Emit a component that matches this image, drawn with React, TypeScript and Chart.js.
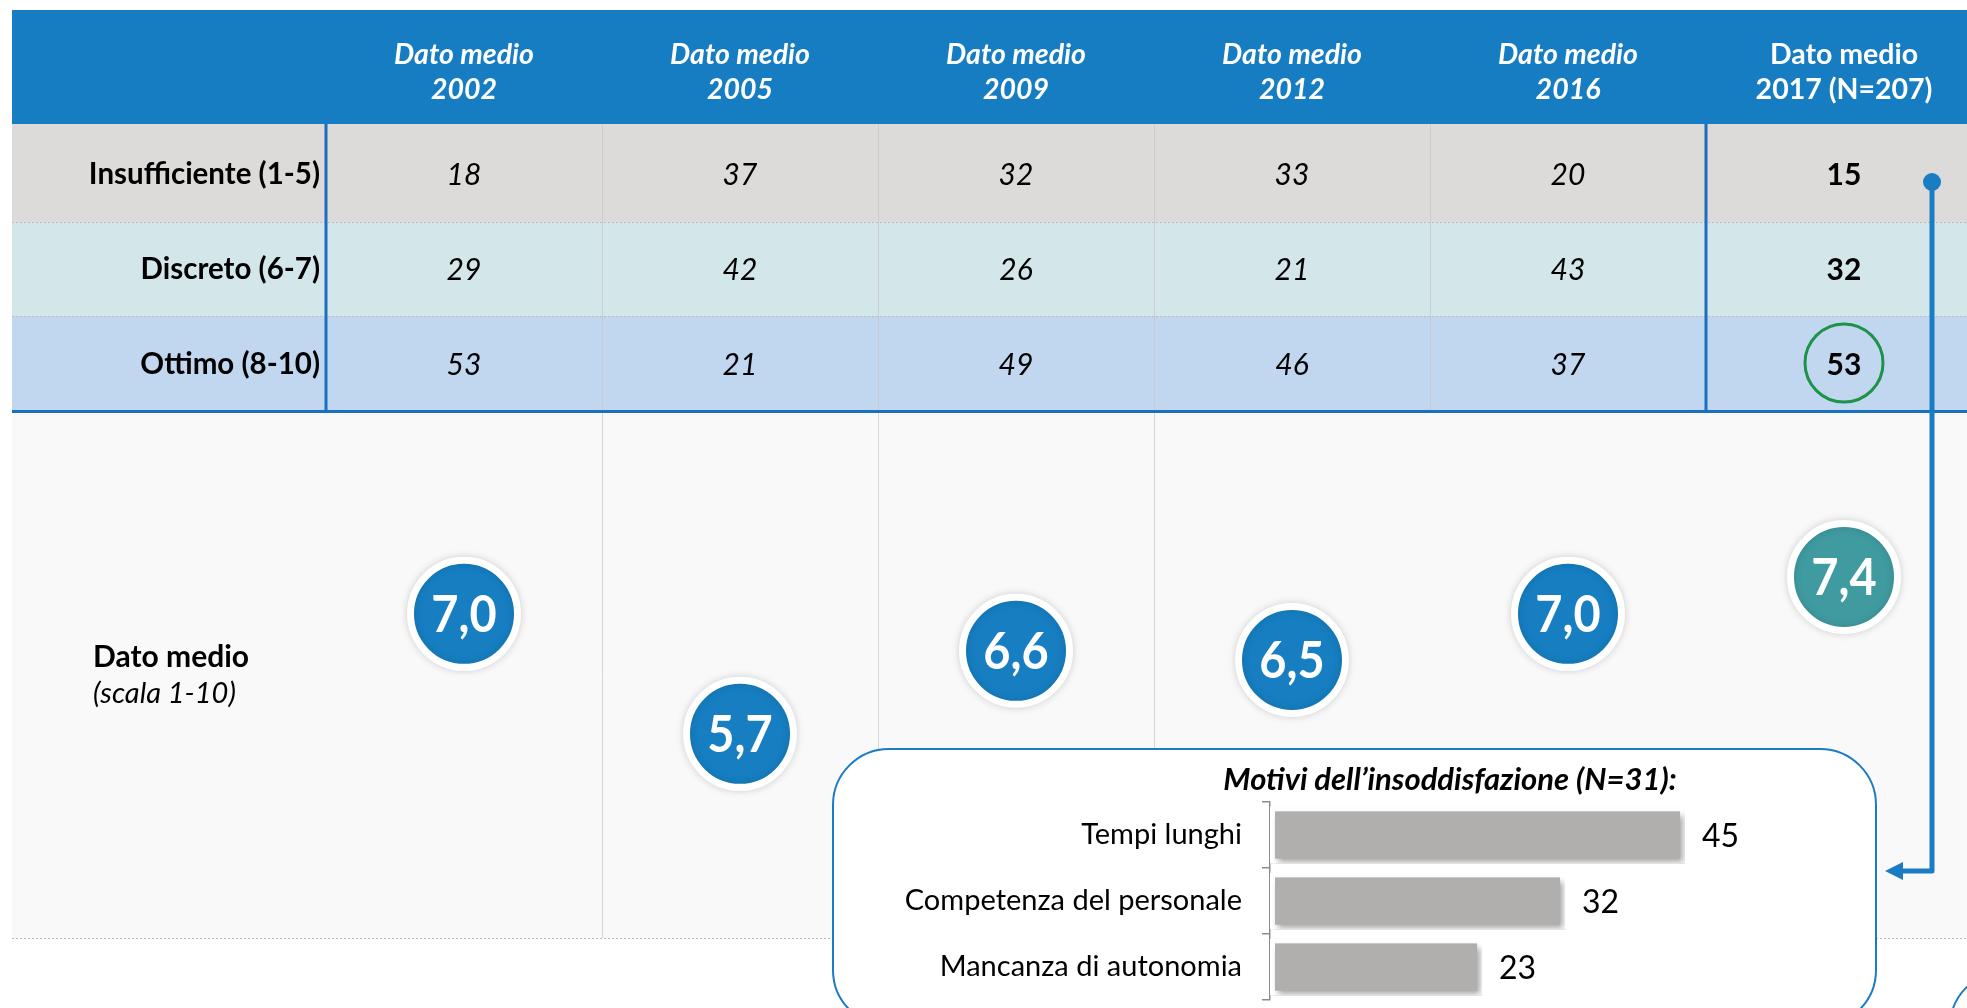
import React, { useEffect, useRef } from 'react';
import { Chart, registerables } from 'chart.js';

Chart.register(...registerables);

// ---------- DATA ----------
const years = ['2002', '2005', '2009', '2012', '2016', '2017 (N=207)'];
const rowLabels = ['Insufficiente (1-5)', 'Discreto (6-7)', 'Ottimo (8-10)'];
const insufficiente = [18, 37, 32, 33, 20, 15];
const discreto = [29, 42, 26, 21, 43, 32];
const ottimo = [53, 21, 49, 46, 37, 53];
const datoMedio = [7.0, 5.7, 6.6, 6.5, 7.0, 7.4];
const bubbleColors = ['#167EC1', '#167EC1', '#167EC1', '#167EC1', '#167EC1', '#3F9BA0'];

const reasonTitle = 'Motivi dell\u2019insoddisfazione (N=31):';
const reasonLabels = ['Tempi lunghi', 'Competenza del personale', 'Mancanza di autonomia'];
const reasonValues = [45, 32, 23];

// ---------- STYLE ----------
const FONT = 'Lato, "Open Sans", sans-serif';
const BLUE = '#177DC2';
const LINE_BLUE = '#1A6FBE';
const W = 1990;
const H = 1008;
const BAR_W = 1044;
const BAR_H = 259;

function txt(
  ctx: CanvasRenderingContext2D,
  s: string,
  x: number,
  y: number,
  font: string,
  color: string,
  align: CanvasTextAlign = 'center',
  baseline: CanvasTextBaseline = 'middle',
  sx = 1
) {
  ctx.save();
  ctx.font = font;
  ctx.fillStyle = color;
  ctx.textAlign = align;
  ctx.textBaseline = baseline;
  ctx.translate(x, y);
  ctx.scale(sx, 1);
  ctx.fillText(s, 0, 0);
  ctx.restore();
}

function roundRect(ctx: CanvasRenderingContext2D, x: number, y: number, w: number, h: number, r: number) {
  ctx.beginPath();
  ctx.moveTo(x + r, y);
  ctx.lineTo(x + w - r, y);
  ctx.arcTo(x + w, y, x + w, y + r, r);
  ctx.lineTo(x + w, y + h - r);
  ctx.arcTo(x + w, y + h, x + w - r, y + h, r);
  ctx.lineTo(x + r, y + h);
  ctx.arcTo(x, y + h, x, y + h - r, r);
  ctx.lineTo(x, y + r);
  ctx.arcTo(x, y, x + r, y, r);
  ctx.closePath();
}

const backdropPlugin = {
  id: 'backdrop',
  beforeDatasetsDraw(chart: any) {
    const ctx: CanvasRenderingContext2D = chart.ctx;
    const xs = chart.scales.x;
    const px = (v: number) => xs.getPixelForValue(v);
    const left = 12;
    const headerTop = 10;
    const headerBottom = 124;
    const rowBounds = [124, 222, 316, 410];
    const rowColors = ['#DCDBDA', '#D3E6EA', '#C1D7F0'];
    const lowerTop = 413;
    const lowerBottom = 938;

    ctx.save();
    // header band
    ctx.fillStyle = BLUE;
    ctx.fillRect(left, headerTop, W - left, headerBottom - headerTop);
    // table rows
    rowColors.forEach((c, i) => {
      ctx.fillStyle = c;
      ctx.fillRect(left, rowBounds[i], W - left, rowBounds[i + 1] - rowBounds[i]);
    });
    // lower section
    ctx.fillStyle = '#F9F9F9';
    ctx.fillRect(left, lowerTop, W - left, lowerBottom - lowerTop);

    // dotted row separators
    ctx.strokeStyle = '#BDBDBD';
    ctx.lineWidth = 1;
    ctx.setLineDash([2, 2]);
    [rowBounds[1], rowBounds[2]].forEach((y) => {
      ctx.beginPath();
      ctx.moveTo(left, y + 0.5);
      ctx.lineTo(W, y + 0.5);
      ctx.stroke();
    });
    ctx.beginPath();
    ctx.moveTo(left, lowerBottom + 0.5);
    ctx.lineTo(W, lowerBottom + 0.5);
    ctx.stroke();
    ctx.setLineDash([]);

    // table light vertical separators
    ctx.strokeStyle = 'rgba(200,200,200,0.8)';
    ctx.lineWidth = 1;
    for (let i = 0; i < years.length - 2; i++) {
      const x = Math.round(px(i + 0.5)) + 0.5;
      ctx.beginPath();
      ctx.moveTo(x, rowBounds[0]);
      ctx.lineTo(x, rowBounds[3]);
      ctx.stroke();
    }
    // lower section vertical separators
    ctx.strokeStyle = '#D6D6D6';
    [0, 1, 2].forEach((i) => {
      const x = Math.round(px(i + 0.5)) + 0.5;
      ctx.beginPath();
      ctx.moveTo(x, lowerTop);
      ctx.lineTo(x, i === 0 ? lowerBottom : 749);
      ctx.stroke();
    });

    // blue vertical lines and bottom border
    ctx.strokeStyle = LINE_BLUE;
    ctx.lineWidth = 3;
    [-0.5, years.length - 1.5].forEach((v) => {
      const x = px(v);
      ctx.beginPath();
      ctx.moveTo(x, headerBottom);
      ctx.lineTo(x, rowBounds[3]);
      ctx.stroke();
    });
    ctx.beginPath();
    ctx.moveTo(left, 411.5);
    ctx.lineTo(W, 411.5);
    ctx.stroke();

    // header text
    years.forEach((y, i) => {
      const last = i === years.length - 1;
      const f = last ? `bold 28.5px ${FONT}` : `italic bold 28.5px ${FONT}`;
      txt(ctx, 'Dato medio', px(i), 64, f, '#FFFFFF', 'center', 'alphabetic');
      txt(ctx, y, px(i), 99, f, '#FFFFFF', 'center', 'alphabetic');
    });

    // row labels and values
    const rowMid = [174, 269, 364];
    const rows = [insufficiente, discreto, ottimo];
    rowLabels.forEach((l, r) => {
      txt(ctx, l, 320, rowMid[r], `bold 29.5px ${FONT}`, '#000000', 'right');
      rows[r].forEach((v, i) => {
        const last = i === years.length - 1;
        txt(ctx, String(v), px(i), rowMid[r] + 1, last ? `bold 30px ${FONT}` : `italic 30px ${FONT}`, '#000000');
      });
    });

    // lower label
    txt(ctx, 'Dato medio', 93, 657, `bold 30px ${FONT}`, '#000000', 'left');
    txt(ctx, '(scala 1-10)', 93, 694, `italic 29px ${FONT}`, '#000000', 'left');

    // green circle around the 2017 "Ottimo" value
    ctx.strokeStyle = '#1E9247';
    ctx.lineWidth = 3;
    ctx.beginPath();
    ctx.arc(px(years.length - 1), 363, 39, 0, Math.PI * 2);
    ctx.stroke();

    // inset box
    ctx.fillStyle = '#FFFFFF';
    ctx.strokeStyle = '#1A7DC4';
    ctx.lineWidth = 2;
    roundRect(ctx, 833, 749, 1876 - 833, 1026 - 749, 56);
    ctx.fill();
    ctx.stroke();
    // partial box at bottom right
    roundRect(ctx, 1950, 971, 300, 200, 56);
    ctx.fill();
    ctx.stroke();

    // connector arrow
    ctx.strokeStyle = '#1A7DC4';
    ctx.fillStyle = '#1A7DC4';
    ctx.lineWidth = 5;
    ctx.lineJoin = 'round';
    ctx.beginPath();
    ctx.moveTo(1932, 182);
    ctx.lineTo(1932, 871);
    ctx.lineTo(1900, 871);
    ctx.stroke();
    ctx.beginPath();
    ctx.moveTo(1885, 871);
    ctx.lineTo(1903, 862);
    ctx.lineTo(1903, 880);
    ctx.closePath();
    ctx.fill();
    ctx.beginPath();
    ctx.arc(1932, 182, 9, 0, Math.PI * 2);
    ctx.fill();
    ctx.restore();
  },
  beforeDatasetDraw(chart: any) {
    const ctx = chart.ctx;
    ctx.save();
    ctx.shadowColor = 'rgba(0,0,0,0.14)';
    ctx.shadowBlur = 8;
  },
  afterDatasetDraw(chart: any) {
    chart.ctx.restore();
  },
  afterDatasetsDraw(chart: any) {
    const ctx = chart.ctx;
    const meta = chart.getDatasetMeta(0);
    meta.data.forEach((pt: any, i: number) => {
      const s = datoMedio[i].toFixed(1).replace('.', ',');
      txt(ctx, s, pt.x, pt.y + 18, `bold 51px ${FONT}`, '#FFFFFF', 'center', 'alphabetic', 0.92);
    });
  },
};

const barShadowPlugin = {
  id: 'barShadow',
  beforeDatasetDraw(chart: any) {
    const ctx = chart.ctx;
    ctx.save();
    ctx.shadowColor = 'rgba(0,0,0,0.35)';
    ctx.shadowBlur = 6;
    ctx.shadowOffsetX = 3;
    ctx.shadowOffsetY = 4;
  },
  afterDatasetDraw(chart: any) {
    chart.ctx.restore();
  },
  afterDatasetsDraw(chart: any) {
    const ctx = chart.ctx;
    const meta = chart.getDatasetMeta(0);
    meta.data.forEach((bar: any, i: number) => {
      txt(ctx, String(reasonValues[i]), bar.x + 17, bar.y + 12, `32px ${FONT}`, '#000000', 'left', 'alphabetic');
    });
    txt(ctx, reasonTitle, 617, 31, `italic bold 31px ${FONT}`, '#000000', 'center', 'middle');
  },
};

export default function App() {
  const mainRef = useRef<HTMLCanvasElement | null>(null);
  const barRef = useRef<HTMLCanvasElement | null>(null);

  useEffect(() => {
    if (!mainRef.current || !barRef.current) return;
    const main = new Chart(mainRef.current, {
      type: 'scatter',
      data: {
        datasets: [
          {
            data: datoMedio.map((v, i) => ({ x: i, y: v })),
            backgroundColor: bubbleColors,
            borderColor: '#FFFFFF',
            borderWidth: 7,
            pointRadius: 53.5,
            pointHoverRadius: 53.5,
          },
        ],
      },
      options: {
        responsive: false,
        animation: false,
        events: [],
        layout: { autoPadding: false, padding: { left: 326, right: 8, top: 337, bottom: 25 } },
        plugins: { legend: { display: false }, tooltip: { enabled: false }, title: { display: false } },
        scales: {
          x: { type: 'linear', display: false, min: -0.5, max: 5.5 },
          y: { type: 'linear', display: false, min: 3, max: 10 },
        },
      },
      plugins: [backdropPlugin],
    } as any);

    const bars = new Chart(barRef.current, {
      type: 'bar',
      data: {
        labels: reasonLabels,
        datasets: [
          {
            data: reasonValues,
            backgroundColor: '#B0AFAE',
            borderColor: '#FFFFFF',
            borderWidth: 5,
            borderSkipped: false,
            barPercentage: 0.86,
            categoryPercentage: 1,
          },
        ],
      },
      options: {
        indexAxis: 'y',
        responsive: false,
        animation: false,
        events: [],
        layout: { autoPadding: false, padding: { left: 0, right: 146, top: 53, bottom: 8 } },
        plugins: { legend: { display: false }, tooltip: { enabled: false }, title: { display: false } },
        scales: {
          x: { display: false, min: 0, max: 50 },
          y: {
            afterFit: (s: any) => {
              s.width = 437;
              s.paddingTop = 0;
              s.paddingBottom = 0;
            },
            ticks: { color: '#000000', font: { family: FONT, size: 29 }, padding: 20 },
            grid: { drawOnChartArea: false, drawTicks: true, tickLength: 8, offset: true, color: '#8C8C8C', lineWidth: 1.5 },
            border: { display: true, color: '#8C8C8C', width: 1.5 },
          },
        },
      },
      plugins: [barShadowPlugin],
    } as any);

    return () => {
      main.destroy();
      bars.destroy();
    };
  }, []);

  return (
    <div style={{ position: 'absolute', left: 0, top: 0, width: 1967, height: 1008, overflow: 'hidden', background: '#FFFFFF' }}>
      <canvas ref={mainRef} width={W} height={H} style={{ position: 'absolute', left: 0, top: 0, width: W, height: H }} />
      <canvas ref={barRef} width={BAR_W} height={BAR_H} style={{ position: 'absolute', left: 833, top: 749, width: BAR_W, height: BAR_H }} />
    </div>
  );
}
